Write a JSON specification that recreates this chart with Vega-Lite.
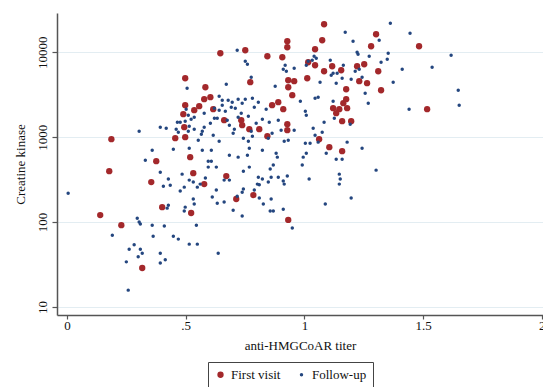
{
  "$schema": "https://vega.github.io/schema/vega-lite/v6.json",
  "width": 486,
  "height": 302,
  "autosize": {"type": "none"},
  "padding": {"left": 57, "top": 13, "right": 0, "bottom": 72},
  "background": "white",
  "config": {
    "view": {"stroke": null},
    "font": "Liberation Serif"
  },
  "data": {
    "values": [
      {"t":0.498,"ck":4940,"visit":"First visit"},
      {"t":0.498,"ck":2380,"visit":"First visit"},
      {"t":0.490,"ck":1866,"visit":"First visit"},
      {"t":0.536,"ck":2080,"visit":"First visit"},
      {"t":0.557,"ck":2317,"visit":"First visit"},
      {"t":0.494,"ck":1312,"visit":"First visit"},
      {"t":0.456,"ck":973,"visit":"First visit"},
      {"t":0.498,"ck":1000,"visit":"First visit"},
      {"t":0.187,"ck":947,"visit":"First visit"},
      {"t":0.519,"ck":582,"visit":"First visit"},
      {"t":0.376,"ck":522,"visit":"First visit"},
      {"t":0.646,"ck":9730,"visit":"First visit"},
      {"t":0.751,"ck":10560,"visit":"First visit"},
      {"t":0.844,"ck":8970,"visit":"First visit"},
      {"t":0.772,"ck":4440,"visit":"First visit"},
      {"t":0.583,"ck":3875,"visit":"First visit"},
      {"t":0.604,"ck":2955,"visit":"First visit"},
      {"t":0.578,"ck":2800,"visit":"First visit"},
      {"t":0.616,"ck":2135,"visit":"First visit"},
      {"t":0.662,"ck":1585,"visit":"First visit"},
      {"t":0.734,"ck":1585,"visit":"First visit"},
      {"t":0.738,"ck":1384,"visit":"First visit"},
      {"t":0.768,"ck":1243,"visit":"First visit"},
      {"t":0.810,"ck":1243,"visit":"First visit"},
      {"t":0.844,"ck":1027,"visit":"First visit"},
      {"t":1.083,"ck":21350,"visit":"First visit"},
      {"t":1.075,"ck":13840,"visit":"First visit"},
      {"t":0.928,"ck":13470,"visit":"First visit"},
      {"t":0.928,"ck":11460,"visit":"First visit"},
      {"t":1.045,"ck":10850,"visit":"First visit"},
      {"t":0.907,"ck":8740,"visit":"First visit"},
      {"t":1.016,"ck":7630,"visit":"First visit"},
      {"t":1.045,"ck":7030,"visit":"First visit"},
      {"t":1.117,"ck":6840,"visit":"First visit"},
      {"t":1.083,"ck":5975,"visit":"First visit"},
      {"t":0.932,"ck":4685,"visit":"First visit"},
      {"t":0.957,"ck":4560,"visit":"First visit"},
      {"t":0.932,"ck":3875,"visit":"First visit"},
      {"t":1.012,"ck":4940,"visit":"First visit"},
      {"t":0.949,"ck":3120,"visit":"First visit"},
      {"t":0.890,"ck":2582,"visit":"First visit"},
      {"t":0.864,"ck":2380,"visit":"First visit"},
      {"t":0.911,"ck":2135,"visit":"First visit"},
      {"t":1.121,"ck":2195,"visit":"First visit"},
      {"t":0.928,"ck":1422,"visit":"First visit"},
      {"t":0.928,"ck":1209,"visit":"First visit"},
      {"t":1.105,"ck":763,"visit":"First visit"},
      {"t":1.302,"ck":16290,"visit":"First visit"},
      {"t":1.281,"ck":11770,"visit":"First visit"},
      {"t":1.483,"ck":11770,"visit":"First visit"},
      {"t":1.155,"ck":6140,"visit":"First visit"},
      {"t":1.222,"ck":6840,"visit":"First visit"},
      {"t":1.252,"ck":7220,"visit":"First visit"},
      {"t":1.311,"ck":5975,"visit":"First visit"},
      {"t":1.231,"ck":4560,"visit":"First visit"},
      {"t":1.264,"ck":4320,"visit":"First visit"},
      {"t":1.176,"ck":3670,"visit":"First visit"},
      {"t":1.323,"ck":3570,"visit":"First visit"},
      {"t":1.176,"ck":2800,"visit":"First visit"},
      {"t":1.164,"ck":2512,"visit":"First visit"},
      {"t":1.180,"ck":2195,"visit":"First visit"},
      {"t":1.147,"ck":2135,"visit":"First visit"},
      {"t":1.134,"ck":1915,"visit":"First visit"},
      {"t":1.517,"ck":2135,"visit":"First visit"},
      {"t":1.159,"ck":1542,"visit":"First visit"},
      {"t":1.197,"ck":1542,"visit":"First visit"},
      {"t":1.159,"ck":684,"visit":"First visit"},
      {"t":1.062,"ck":947,"visit":"First visit"},
      {"t":0.178,"ck":398,"visit":"First visit"},
      {"t":0.355,"ck":296,"visit":"First visit"},
      {"t":0.401,"ck":150,"visit":"First visit"},
      {"t":0.140,"ck":121,"visit":"First visit"},
      {"t":0.229,"ck":92,"visit":"First visit"},
      {"t":0.317,"ck":28.8,"visit":"First visit"},
      {"t":0.532,"ck":377,"visit":"First visit"},
      {"t":0.523,"ck":128,"visit":"First visit"},
      {"t":0.671,"ck":348,"visit":"First visit"},
      {"t":0.578,"ck":280,"visit":"First visit"},
      {"t":0.713,"ck":187,"visit":"First visit"},
      {"t":0.785,"ck":208,"visit":"First visit"},
      {"t":0.932,"ck":106,"visit":"First visit"},

      {"t":0.506,"ck":3770,"visit":"Follow-up"},
      {"t":0.502,"ck":2135,"visit":"Follow-up"},
      {"t":0.511,"ck":1815,"visit":"Follow-up"},
      {"t":0.536,"ck":1720,"visit":"Follow-up"},
      {"t":0.523,"ck":1630,"visit":"Follow-up"},
      {"t":0.498,"ck":1542,"visit":"Follow-up"},
      {"t":0.477,"ck":1500,"visit":"Follow-up"},
      {"t":0.465,"ck":1500,"visit":"Follow-up"},
      {"t":0.515,"ck":1347,"visit":"Follow-up"},
      {"t":0.536,"ck":1243,"visit":"Follow-up"},
      {"t":0.460,"ck":1243,"visit":"Follow-up"},
      {"t":0.418,"ck":1276,"visit":"Follow-up"},
      {"t":0.393,"ck":1312,"visit":"Follow-up"},
      {"t":0.304,"ck":1177,"visit":"Follow-up"},
      {"t":0.469,"ck":1146,"visit":"Follow-up"},
      {"t":0.511,"ck":1177,"visit":"Follow-up"},
      {"t":0.448,"ck":722,"visit":"Follow-up"},
      {"t":0.515,"ck":742,"visit":"Follow-up"},
      {"t":0.553,"ck":922,"visit":"Follow-up"},
      {"t":0.359,"ck":703,"visit":"Follow-up"},
      {"t":0.330,"ck":536,"visit":"Follow-up"},
      {"t":0.717,"ck":10560,"visit":"Follow-up"},
      {"t":0.751,"ck":7840,"visit":"Follow-up"},
      {"t":0.760,"ck":7220,"visit":"Follow-up"},
      {"t":0.776,"ck":5080,"visit":"Follow-up"},
      {"t":0.671,"ck":4205,"visit":"Follow-up"},
      {"t":0.877,"ck":3980,"visit":"Follow-up"},
      {"t":0.919,"ck":7030,"visit":"Follow-up"},
      {"t":0.911,"ck":6310,"visit":"Follow-up"},
      {"t":0.924,"ck":5975,"visit":"Follow-up"},
      {"t":0.957,"ck":6480,"visit":"Follow-up"},
      {"t":1.016,"ck":7840,"visit":"Follow-up"},
      {"t":1.033,"ck":8050,"visit":"Follow-up"},
      {"t":1.041,"ck":8970,"visit":"Follow-up"},
      {"t":1.050,"ck":8500,"visit":"Follow-up"},
      {"t":1.008,"ck":7030,"visit":"Follow-up"},
      {"t":1.066,"ck":4440,"visit":"Follow-up"},
      {"t":0.983,"ck":2655,"visit":"Follow-up"},
      {"t":1.004,"ck":2025,"visit":"Follow-up"},
      {"t":1.008,"ck":1815,"visit":"Follow-up"},
      {"t":1.045,"ck":2875,"visit":"Follow-up"},
      {"t":1.058,"ck":2955,"visit":"Follow-up"},
      {"t":1.083,"ck":1500,"visit":"Follow-up"},
      {"t":0.641,"ck":3035,"visit":"Follow-up"},
      {"t":0.654,"ck":2725,"visit":"Follow-up"},
      {"t":0.654,"ck":2380,"visit":"Follow-up"},
      {"t":0.641,"ck":2080,"visit":"Follow-up"},
      {"t":0.621,"ck":2195,"visit":"Follow-up"},
      {"t":0.621,"ck":1674,"visit":"Follow-up"},
      {"t":0.633,"ck":1674,"visit":"Follow-up"},
      {"t":0.679,"ck":2725,"visit":"Follow-up"},
      {"t":0.696,"ck":2582,"visit":"Follow-up"},
      {"t":0.692,"ck":2255,"visit":"Follow-up"},
      {"t":0.667,"ck":2025,"visit":"Follow-up"},
      {"t":0.675,"ck":1585,"visit":"Follow-up"},
      {"t":0.684,"ck":1384,"visit":"Follow-up"},
      {"t":0.721,"ck":2800,"visit":"Follow-up"},
      {"t":0.738,"ck":2512,"visit":"Follow-up"},
      {"t":0.751,"ck":2800,"visit":"Follow-up"},
      {"t":0.709,"ck":2195,"visit":"Follow-up"},
      {"t":0.734,"ck":1915,"visit":"Follow-up"},
      {"t":0.721,"ck":1720,"visit":"Follow-up"},
      {"t":0.781,"ck":2875,"visit":"Follow-up"},
      {"t":0.806,"ck":2582,"visit":"Follow-up"},
      {"t":0.789,"ck":2255,"visit":"Follow-up"},
      {"t":0.764,"ck":1767,"visit":"Follow-up"},
      {"t":0.839,"ck":2135,"visit":"Follow-up"},
      {"t":0.852,"ck":1500,"visit":"Follow-up"},
      {"t":0.823,"ck":1630,"visit":"Follow-up"},
      {"t":0.797,"ck":1461,"visit":"Follow-up"},
      {"t":0.776,"ck":1177,"visit":"Follow-up"},
      {"t":0.781,"ck":1027,"visit":"Follow-up"},
      {"t":0.743,"ck":973,"visit":"Follow-up"},
      {"t":0.764,"ck":897,"visit":"Follow-up"},
      {"t":0.768,"ck":742,"visit":"Follow-up"},
      {"t":0.705,"ck":1243,"visit":"Follow-up"},
      {"t":0.700,"ck":1115,"visit":"Follow-up"},
      {"t":0.604,"ck":1461,"visit":"Follow-up"},
      {"t":0.578,"ck":1312,"visit":"Follow-up"},
      {"t":0.570,"ck":1177,"visit":"Follow-up"},
      {"t":0.566,"ck":1085,"visit":"Follow-up"},
      {"t":0.578,"ck":1915,"visit":"Follow-up"},
      {"t":0.616,"ck":1056,"visit":"Follow-up"},
      {"t":0.641,"ck":897,"visit":"Follow-up"},
      {"t":0.608,"ck":703,"visit":"Follow-up"},
      {"t":0.570,"ck":703,"visit":"Follow-up"},
      {"t":0.684,"ck":614,"visit":"Follow-up"},
      {"t":0.721,"ck":582,"visit":"Follow-up"},
      {"t":0.760,"ck":614,"visit":"Follow-up"},
      {"t":0.823,"ck":703,"visit":"Follow-up"},
      {"t":0.881,"ck":648,"visit":"Follow-up"},
      {"t":0.886,"ck":582,"visit":"Follow-up"},
      {"t":0.848,"ck":973,"visit":"Follow-up"},
      {"t":0.864,"ck":1115,"visit":"Follow-up"},
      {"t":0.915,"ck":897,"visit":"Follow-up"},
      {"t":0.932,"ck":922,"visit":"Follow-up"},
      {"t":0.902,"ck":1209,"visit":"Follow-up"},
      {"t":0.890,"ck":1585,"visit":"Follow-up"},
      {"t":0.957,"ck":1209,"visit":"Follow-up"},
      {"t":1.037,"ck":1276,"visit":"Follow-up"},
      {"t":1.045,"ck":1056,"visit":"Follow-up"},
      {"t":1.004,"ck":850,"visit":"Follow-up"},
      {"t":1.024,"ck":850,"visit":"Follow-up"},
      {"t":1.075,"ck":1146,"visit":"Follow-up"},
      {"t":1.058,"ck":874,"visit":"Follow-up"},
      {"t":1.109,"ck":8050,"visit":"Follow-up"},
      {"t":1.113,"ck":5360,"visit":"Follow-up"},
      {"t":1.121,"ck":2655,"visit":"Follow-up"},
      {"t":1.126,"ck":1674,"visit":"Follow-up"},
      {"t":0.995,"ck":582,"visit":"Follow-up"},
      {"t":1.008,"ck":648,"visit":"Follow-up"},
      {"t":1.092,"ck":648,"visit":"Follow-up"},
      {"t":1.362,"ck":21930,"visit":"Follow-up"},
      {"t":1.172,"ck":17180,"visit":"Follow-up"},
      {"t":1.205,"ck":13470,"visit":"Follow-up"},
      {"t":1.315,"ck":13840,"visit":"Follow-up"},
      {"t":1.445,"ck":16740,"visit":"Follow-up"},
      {"t":1.222,"ck":10000,"visit":"Follow-up"},
      {"t":1.226,"ck":9470,"visit":"Follow-up"},
      {"t":1.273,"ck":8970,"visit":"Follow-up"},
      {"t":1.353,"ck":9730,"visit":"Follow-up"},
      {"t":1.349,"ck":8270,"visit":"Follow-up"},
      {"t":1.323,"ck":7630,"visit":"Follow-up"},
      {"t":1.618,"ck":9220,"visit":"Follow-up"},
      {"t":1.412,"ck":6310,"visit":"Follow-up"},
      {"t":1.538,"ck":6660,"visit":"Follow-up"},
      {"t":1.164,"ck":7030,"visit":"Follow-up"},
      {"t":1.121,"ck":5660,"visit":"Follow-up"},
      {"t":1.138,"ck":5660,"visit":"Follow-up"},
      {"t":1.214,"ck":5975,"visit":"Follow-up"},
      {"t":1.231,"ck":6310,"visit":"Follow-up"},
      {"t":1.159,"ck":4940,"visit":"Follow-up"},
      {"t":1.134,"ck":4320,"visit":"Follow-up"},
      {"t":1.197,"ck":4810,"visit":"Follow-up"},
      {"t":1.243,"ck":5080,"visit":"Follow-up"},
      {"t":1.374,"ck":4440,"visit":"Follow-up"},
      {"t":1.256,"ck":3295,"visit":"Follow-up"},
      {"t":1.648,"ck":3570,"visit":"Follow-up"},
      {"t":1.269,"ck":2512,"visit":"Follow-up"},
      {"t":1.441,"ck":2135,"visit":"Follow-up"},
      {"t":1.652,"ck":2380,"visit":"Follow-up"},
      {"t":1.193,"ck":1422,"visit":"Follow-up"},
      {"t":1.180,"ck":874,"visit":"Follow-up"},
      {"t":1.243,"ck":742,"visit":"Follow-up"},
      {"t":1.134,"ck":551,"visit":"Follow-up"},
      {"t":1.159,"ck":551,"visit":"Follow-up"},
      {"t":0.005,"ck":219,"visit":"Follow-up"},
      {"t":0.191,"ck":70,"visit":"Follow-up"},
      {"t":0.296,"ck":111,"visit":"Follow-up"},
      {"t":0.304,"ck":100,"visit":"Follow-up"},
      {"t":0.309,"ck":95,"visit":"Follow-up"},
      {"t":0.359,"ck":92,"visit":"Follow-up"},
      {"t":0.410,"ck":90,"visit":"Follow-up"},
      {"t":0.363,"ck":68,"visit":"Follow-up"},
      {"t":0.448,"ck":68,"visit":"Follow-up"},
      {"t":0.469,"ck":63,"visit":"Follow-up"},
      {"t":0.262,"ck":48,"visit":"Follow-up"},
      {"t":0.283,"ck":54,"visit":"Follow-up"},
      {"t":0.309,"ck":48,"visit":"Follow-up"},
      {"t":0.317,"ck":43,"visit":"Follow-up"},
      {"t":0.300,"ck":39,"visit":"Follow-up"},
      {"t":0.250,"ck":34,"visit":"Follow-up"},
      {"t":0.393,"ck":43,"visit":"Follow-up"},
      {"t":0.393,"ck":33,"visit":"Follow-up"},
      {"t":0.414,"ck":36,"visit":"Follow-up"},
      {"t":0.515,"ck":55,"visit":"Follow-up"},
      {"t":0.549,"ck":55,"visit":"Follow-up"},
      {"t":0.258,"ck":15.8,"visit":"Follow-up"},
      {"t":0.393,"ck":387,"visit":"Follow-up"},
      {"t":0.427,"ck":321,"visit":"Follow-up"},
      {"t":0.435,"ck":272,"visit":"Follow-up"},
      {"t":0.406,"ck":265,"visit":"Follow-up"},
      {"t":0.477,"ck":232,"visit":"Follow-up"},
      {"t":0.494,"ck":258,"visit":"Follow-up"},
      {"t":0.515,"ck":312,"visit":"Follow-up"},
      {"t":0.532,"ck":296,"visit":"Follow-up"},
      {"t":0.549,"ck":258,"visit":"Follow-up"},
      {"t":0.485,"ck":367,"visit":"Follow-up"},
      {"t":0.427,"ck":158,"visit":"Follow-up"},
      {"t":0.422,"ck":146,"visit":"Follow-up"},
      {"t":0.498,"ck":150,"visit":"Follow-up"},
      {"t":0.494,"ck":135,"visit":"Follow-up"},
      {"t":0.532,"ck":187,"visit":"Follow-up"},
      {"t":0.536,"ck":163,"visit":"Follow-up"},
      {"t":0.545,"ck":92,"visit":"Follow-up"},
      {"t":0.949,"ck":85,"visit":"Follow-up"},
      {"t":0.637,"ck":43,"visit":"Follow-up"},
      {"t":0.595,"ck":522,"visit":"Follow-up"},
      {"t":0.608,"ck":522,"visit":"Follow-up"},
      {"t":0.595,"ck":444,"visit":"Follow-up"},
      {"t":0.629,"ck":444,"visit":"Follow-up"},
      {"t":0.743,"ck":398,"visit":"Follow-up"},
      {"t":0.768,"ck":444,"visit":"Follow-up"},
      {"t":0.856,"ck":421,"visit":"Follow-up"},
      {"t":0.869,"ck":469,"visit":"Follow-up"},
      {"t":0.583,"ck":330,"visit":"Follow-up"},
      {"t":0.662,"ck":312,"visit":"Follow-up"},
      {"t":0.684,"ck":312,"visit":"Follow-up"},
      {"t":0.806,"ck":338,"visit":"Follow-up"},
      {"t":0.823,"ck":321,"visit":"Follow-up"},
      {"t":0.802,"ck":280,"visit":"Follow-up"},
      {"t":0.810,"ck":276,"visit":"Follow-up"},
      {"t":0.789,"ck":238,"visit":"Follow-up"},
      {"t":0.860,"ck":338,"visit":"Follow-up"},
      {"t":0.890,"ck":338,"visit":"Follow-up"},
      {"t":0.911,"ck":304,"visit":"Follow-up"},
      {"t":0.928,"ck":348,"visit":"Follow-up"},
      {"t":0.848,"ck":296,"visit":"Follow-up"},
      {"t":0.915,"ck":280,"visit":"Follow-up"},
      {"t":0.629,"ck":238,"visit":"Follow-up"},
      {"t":0.612,"ck":197,"visit":"Follow-up"},
      {"t":0.633,"ck":167,"visit":"Follow-up"},
      {"t":0.662,"ck":172,"visit":"Follow-up"},
      {"t":0.743,"ck":245,"visit":"Follow-up"},
      {"t":0.738,"ck":225,"visit":"Follow-up"},
      {"t":0.717,"ck":202,"visit":"Follow-up"},
      {"t":0.700,"ck":138,"visit":"Follow-up"},
      {"t":0.738,"ck":118,"visit":"Follow-up"},
      {"t":0.810,"ck":192,"visit":"Follow-up"},
      {"t":0.827,"ck":163,"visit":"Follow-up"},
      {"t":0.860,"ck":187,"visit":"Follow-up"},
      {"t":0.856,"ck":135,"visit":"Follow-up"},
      {"t":0.869,"ck":135,"visit":"Follow-up"},
      {"t":0.911,"ck":142,"visit":"Follow-up"},
      {"t":1.020,"ck":321,"visit":"Follow-up"},
      {"t":0.991,"ck":469,"visit":"Follow-up"},
      {"t":1.088,"ck":163,"visit":"Follow-up"},
      {"t":0.561,"ck":280,"visit":"Follow-up"},
      {"t":1.302,"ck":409,"visit":"Follow-up"},
      {"t":1.147,"ck":367,"visit":"Follow-up"},
      {"t":1.151,"ck":321,"visit":"Follow-up"},
      {"t":1.147,"ck":280,"visit":"Follow-up"},
      {"t":1.197,"ck":192,"visit":"Follow-up"}
    ]
  },
  "mark": {"type": "point", "filled": true, "shape": "circle", "opacity": 1},
  "encoding": {
    "x": {
      "field": "t",
      "type": "quantitative",
      "scale": {"domain": [-0.042, 2.005], "nice": false, "zero": false},
      "axis": {
        "title": "anti-HMGCoAR titer",
        "values": [0, 0.5, 1, 1.5, 2],
        "labelExpr": "datum.value == 0.5 ? '.5' : '' + datum.value",
        "grid": false,
        "domainColor": "#555555",
        "domainWidth": 1.5,
        "tickColor": "#555555",
        "tickWidth": 1.2,
        "tickSize": 4,
        "labelFont": "Liberation Serif",
        "labelFontSize": 13,
        "labelColor": "#111111",
        "labelPadding": 0,
        "titleFont": "Liberation Serif",
        "titleFontSize": 13,
        "titleFontWeight": "normal",
        "titleColor": "#111111",
        "titlePadding": 7
      }
    },
    "y": {
      "field": "ck",
      "type": "quantitative",
      "scale": {"type": "log", "domain": [8.05, 28990], "nice": false},
      "axis": {
        "title": "Creatine kinase",
        "values": [10, 100, 1000, 10000],
        "format": "d",
        "labelAngle": -90,
        "labelAlign": "center",
        "labelBaseline": "bottom",
        "grid": true,
        "gridColor": "#e3edf2",
        "gridWidth": 1.2,
        "domainColor": "#555555",
        "domainWidth": 1.5,
        "tickColor": "#555555",
        "tickWidth": 1.2,
        "tickSize": 5,
        "labelFont": "Liberation Serif",
        "labelFontSize": 13,
        "labelColor": "#111111",
        "labelPadding": 3,
        "titleFont": "Liberation Serif",
        "titleFontSize": 13,
        "titleFontWeight": "normal",
        "titleColor": "#111111",
        "titlePadding": 9
      }
    },
    "color": {
      "field": "visit",
      "type": "nominal",
      "scale": {"domain": ["First visit", "Follow-up"], "range": ["#a3282b", "#24467f"]},
      "legend": {
        "title": null,
        "orient": "none",
        "legendX": 151,
        "legendY": 349,
        "direction": "horizontal",
        "strokeColor": "#444444",
        "fillColor": "white",
        "padding": 6,
        "labelFont": "Liberation Serif",
        "labelFontSize": 13,
        "labelColor": "#111111",
        "columnPadding": 14,
        "symbolType": "circle",
        "symbolStrokeWidth": 0
      }
    },
    "size": {
      "field": "visit",
      "type": "nominal",
      "scale": {"domain": ["First visit", "Follow-up"], "range": [40, 12]},
      "legend": null
    }
  }
}
